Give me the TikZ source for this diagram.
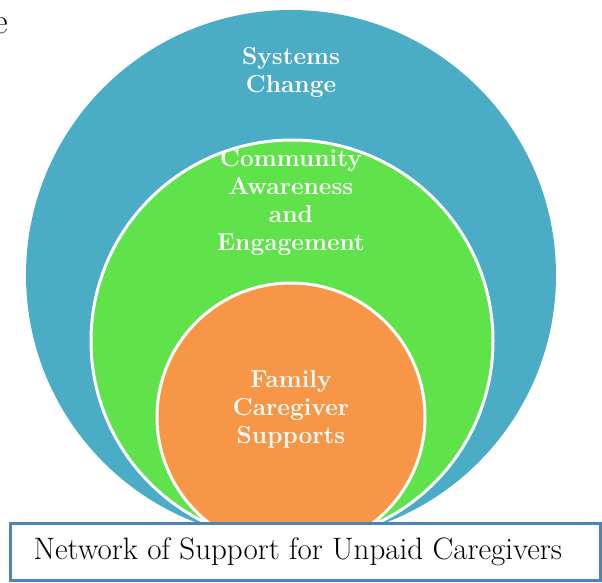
\documentclass[tikz,border=0pt]{standalone}
\usepackage{fontspec}
\usepackage{tikz}

\definecolor{sysblue}{HTML}{4BACC6}
\definecolor{commgreen}{HTML}{60E24A}
\definecolor{famorange}{HTML}{F79646}
\definecolor{boxblue}{HTML}{4F81BD}

\begin{document}
\begin{tikzpicture}[x=1pt, y=-1pt,
    ringlabel/.style={text=white, align=center, font=\fontsize{24.5}{28}\selectfont\bfseries}]
    \useasboundingbox (0,0) rectangle (602,582);
    \def\ringOuter{(291,275) circle [radius=265]}
    \def\ringMiddle{(292,341) circle [radius=201]}
    \def\ringInner{(291,417) circle [radius=134]}
    \fill [sysblue] \ringOuter;
    \filldraw [fill=commgreen, draw=white, line width=3pt] \ringMiddle;
    \filldraw [fill=famorange, draw=white, line width=3pt] \ringInner;
    \node [ringlabel] (systems) at (291,72) {Systems\\Change};
    \node [ringlabel] (community) at (291,202) {Community\\Awareness\\and\\Engagement};
    \node [ringlabel] (family) at (291,409) {Family\\Caregiver\\Supports};
    % network box along the bottom
    \node [draw=boxblue, fill=white, line width=3pt, minimum width=590, minimum height=57] (network) at (305,551.5) {};
    \node [anchor=west, font=\fontsize{31}{34}\selectfont] (networktext) at (30,552) {Network of Support for Unpaid Caregivers};
    \node [anchor=base east, inner sep=0pt, font=\fontsize{36}{40}\selectfont] (stray) at (8,33) {e};
\end{tikzpicture}
\end{document}
